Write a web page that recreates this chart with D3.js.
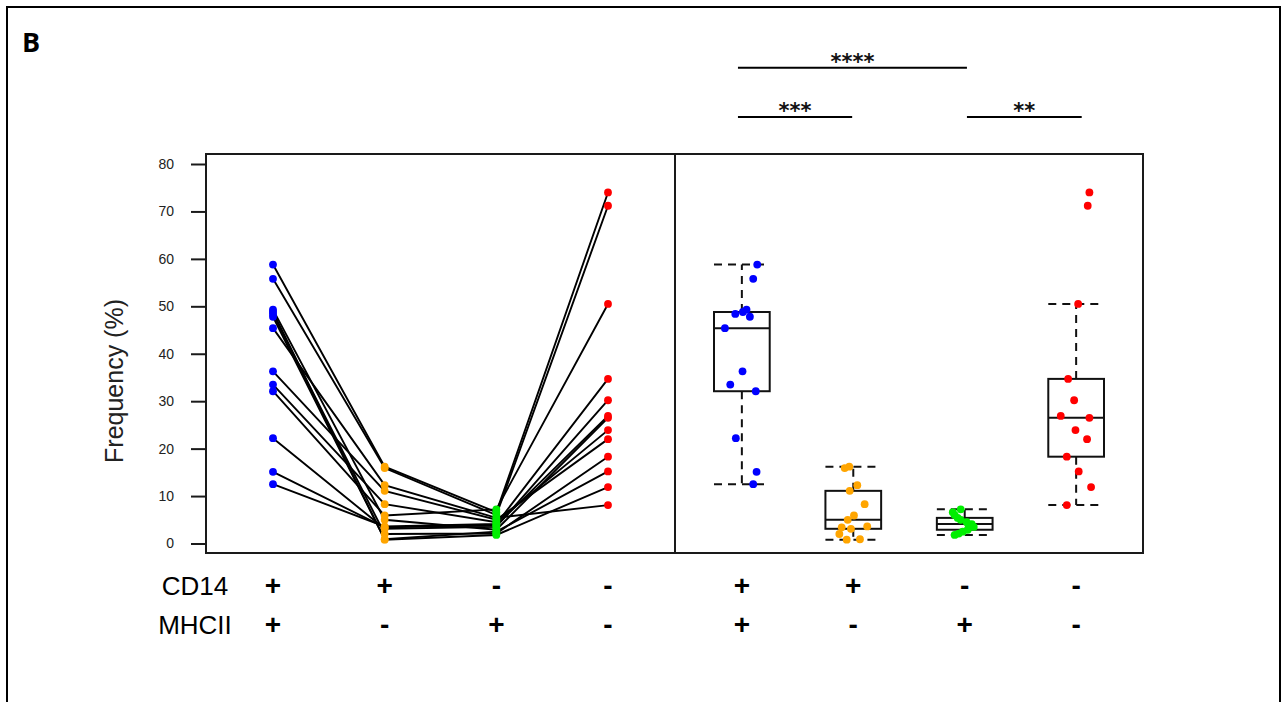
<!DOCTYPE html>
<html><head><meta charset="utf-8">
<script src="https://cdn.jsdelivr.net/npm/d3@7"></script>
<style>body{margin:0;background:#fff}svg{display:block}</style>
</head><body><svg id="c" width="1283" height="702"></svg>
<script>
// ---- data (per subject, paired across the four populations) ----
const groups = ["CD14+MHCII+", "CD14+MHCII-", "CD14-MHCII+", "CD14-MHCII-"];
const cd14Labels = ["+", "+", "-", "-"];
const mhciiLabels = ["+", "-", "+", "-"];
const colors = ["#0000ff", "#ffa500", "#00ee00", "#ff0000"];
const posPos = [58.8, 55.8, 49.3, 48.8, 48.4, 47.8, 45.4, 36.3, 33.5, 32.1, 22.2, 15.1, 12.5];
const posNeg = [16.2, 15.9, 5.0, 0.8, 2.0, 0.9, 12.3, 11.1, 8.3, 5.9, 3.1, 3.4, 3.6];
const negPos = [6.6, 6.0, 2.9, 1.8, 2.1, 2.5, 5.4, 5.0, 4.5, 7.2, 3.5, 3.8, 4.1];
const negNeg = [74.0, 71.2, 26.5, 11.9, 18.3, 15.2, 8.1, 22.0, 23.9, 50.5, 30.2, 26.9, 34.7];
// horizontal jitter of the right-panel points (fraction of category step)
const jitPosPos = [0.138, 0.102, 0.042, 0.009, -0.059, 0.072, -0.152, 0.006, -0.104, 0.125, -0.054, 0.132, 0.102];
const jitPosNeg = [-0.036, -0.077, -0.050, -0.059, -0.125, 0.060, 0.036, -0.032, 0.102, 0.006, -0.021, -0.104, 0.125];
const jitNegPos = [-0.107, -0.090, 0.027, -0.090, -0.054, -0.018, -0.063, -0.036, 0.018, -0.036, 0.081, 0.036, 0.063];
const jitNegNeg = [0.119, 0.104, 0.119, 0.134, -0.084, 0.023, -0.084, 0.098, -0.006, 0.018, -0.018, -0.138, -0.072];
const yTicks = [0, 10, 20, 30, 40, 50, 60, 70, 80];
// brackets: from/to in category-index units of the right panel
const comparisons = [
  {from: -0.035, to: 2.02, label: "****", level: 1},
  {from: -0.035, to: 0.99, label: "***", level: 0},
  {from: 2.02, to: 3.05, label: "**", level: 0}
];

const series = [posPos, posNeg, negPos, negNeg];
const jitters = [jitPosPos, jitPosNeg, jitNegPos, jitNegNeg];

const svg = d3.select("#c");
const font = "Arial, 'Liberation Sans', sans-serif";

// outer figure border
svg.append("rect").attr("x", 7).attr("y", 7).attr("width", 1273).attr("height", 720)
  .attr("fill", "none").attr("stroke", "#000").attr("stroke-width", 2);
svg.append("text").attr("x", 22).attr("y", 52).text("B")
  .attr("font-family", "'Open Sans', Arial, sans-serif").attr("font-weight", "bold")
  .attr("font-size", 27).attr("fill", "#000");

const plotL = 206, plotM = 675, plotR = 1143, plotT = 154, plotB = 553;
const y = d3.scaleLinear().domain([0, 80]).range([543.5, 164]);
const xL = d3.scalePoint().domain(groups).range([plotL, plotM]).padding(0.6);
const xR = d3.scalePoint().domain(groups).range([plotM, plotR]).padding(0.6);
const xIdx = d3.scaleLinear().domain([0, 3]).range([xR(groups[0]), xR(groups[3])]);

// frames
svg.append("rect").attr("x", plotL).attr("y", plotT).attr("width", plotR - plotL).attr("height", plotB - plotT)
  .attr("fill", "none").attr("stroke", "#1a1a1a").attr("stroke-width", 2);
svg.append("line").attr("x1", plotM).attr("x2", plotM).attr("y1", plotT).attr("y2", plotB)
  .attr("stroke", "#1a1a1a").attr("stroke-width", 2);

// y axis
const ax = svg.append("g").attr("transform", `translate(${plotL - 1},0)`)
  .call(d3.axisLeft(y).tickValues(yTicks).tickSize(14).tickPadding(17));
ax.select(".domain").remove();
ax.selectAll(".tick line").attr("stroke", "#1a1a1a").attr("stroke-width", 2);
ax.selectAll(".tick text").attr("font-family", font).attr("font-size", 14).attr("fill", "#222");

svg.append("text").attr("transform", `translate(123,381) rotate(-90)`)
  .attr("text-anchor", "middle").attr("font-family", font).attr("font-size", 25)
  .attr("fill", "#222").text("Frequency (%)");

// ---- left panel: paired lines ----
const subjects = d3.range(posPos.length);
const line = d3.line().x(d => xL(d.g)).y(d => y(d.v));
const gl = svg.append("g");
subjects.forEach(i => {
  const pts = groups.map((g, k) => ({g, v: series[k][i]}));
  gl.append("path").attr("d", line(pts)).attr("fill", "none")
    .attr("stroke", "#000").attr("stroke-width", 1.9);
});
groups.forEach((g, k) => {
  gl.selectAll(null).data(series[k]).enter().append("circle")
    .attr("cx", xL(g)).attr("cy", d => y(d)).attr("r", 3.9).attr("fill", colors[k]);
});

// ---- right panel: boxplots ----
function hinges(arr) {
  const s = arr.slice().sort(d3.ascending);
  const n = s.length;
  const n4 = Math.floor((n + 3) / 2) / 2;
  const idx = [1, n4, (n + 1) / 2, n + 1 - n4, n];
  return idx.map(i => 0.5 * (s[Math.floor(i) - 1] + s[Math.ceil(i) - 1]));
}
const step = xR.step();
const bw = step * 0.5;
const gb = svg.append("g");
groups.forEach((g, k) => {
  const vals = series[k];
  const [mn, q1, med, q3, mx] = hinges(vals);
  const iqr = q3 - q1;
  const lo = d3.min(vals.filter(v => v >= q1 - 1.5 * iqr));
  const hi = d3.max(vals.filter(v => v <= q3 + 1.5 * iqr));
  const cx = xR(g);
  const dash = "8,6";
  gb.append("line").attr("x1", cx).attr("x2", cx).attr("y1", y(q3)).attr("y2", y(hi))
    .attr("stroke", "#111").attr("stroke-width", 2).attr("stroke-dasharray", dash);
  gb.append("line").attr("x1", cx).attr("x2", cx).attr("y1", y(q1)).attr("y2", y(lo))
    .attr("stroke", "#111").attr("stroke-width", 2).attr("stroke-dasharray", dash);
  [hi, lo].forEach(v => gb.append("line").attr("x1", cx - bw / 2).attr("x2", cx + bw / 2)
    .attr("y1", y(v)).attr("y2", y(v)).attr("stroke", "#111").attr("stroke-width", 2)
    .attr("stroke-dasharray", dash));
  gb.append("rect").attr("x", cx - bw / 2).attr("y", y(q3)).attr("width", bw)
    .attr("height", y(q1) - y(q3)).attr("fill", "#fff").attr("stroke", "#111").attr("stroke-width", 2);
  gb.append("line").attr("x1", cx - bw / 2).attr("x2", cx + bw / 2).attr("y1", y(med)).attr("y2", y(med))
    .attr("stroke", "#111").attr("stroke-width", 2);
  gb.selectAll(null).data(vals).enter().append("circle")
    .attr("cx", (d, i) => cx + jitters[k][i] * step).attr("cy", d => y(d))
    .attr("r", 3.9).attr("fill", colors[k]);
});

// ---- significance brackets ----
const levelY = [117, 67.7];
comparisons.forEach(c => {
  const x1 = xIdx(c.from), x2 = xIdx(c.to);
  const yy = levelY[c.level];
  svg.append("line").attr("x1", x1).attr("x2", x2).attr("y1", yy).attr("y2", yy)
    .attr("stroke", "#000").attr("stroke-width", 2);
  svg.append("text").attr("x", (x1 + x2) / 2).attr("y", yy + 1).attr("text-anchor", "middle")
    .attr("font-family", "'DejaVu Sans', sans-serif").attr("font-weight", "bold")
    .attr("font-size", 21).attr("fill", "#111").text(c.label);
});

// ---- phenotype rows ----
const rows = [{name: "CD14", labels: cd14Labels, y: 595}, {name: "MHCII", labels: mhciiLabels, y: 634}];
rows.forEach(r => {
  svg.append("text").attr("x", 195).attr("y", r.y).attr("text-anchor", "middle")
    .attr("font-family", font).attr("font-size", 26).attr("fill", "#000").text(r.name);
  [xL, xR].forEach(sc => {
    groups.forEach((g, k) => {
      svg.append("text").attr("x", sc(g)).attr("y", r.y).attr("text-anchor", "middle")
        .attr("font-family", font).attr("font-weight", "bold").attr("font-size", 28)
        .attr("fill", "#000").text(r.labels[k]);
    });
  });
});
</script></body></html>
